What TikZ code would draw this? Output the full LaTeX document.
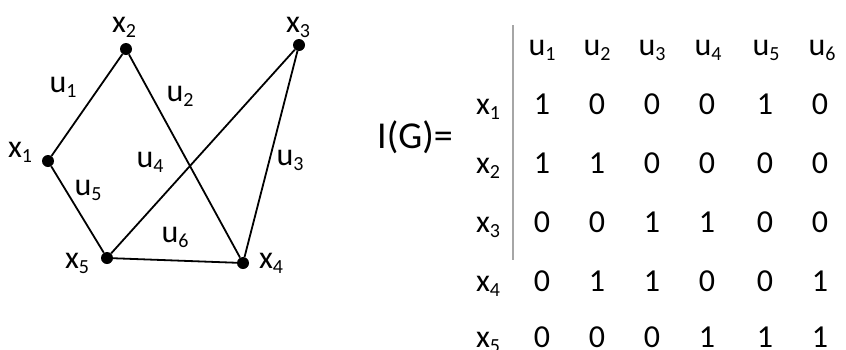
\documentclass[tikz,border=0pt]{standalone}
\usepackage{fontspec}
\setmainfont{Carlito}
\usetikzlibrary{positioning}
\newcommand{\lo}[1]{\raisebox{-.16em}{\fontsize{20}{20}\selectfont#1}}
\tikzset{
  vtx/.style={circle,fill=black,inner sep=0pt,minimum size=12pt},
  lbl/.style={anchor=base,inner sep=0pt,font=\fontsize{32}{32}\selectfont},
  edge/.style={line width=1.8pt}
}

\begin{document}
\begin{tikzpicture}[x=1pt,y=-1pt]
        \useasboundingbox (0,0) rectangle (846,349);
        \foreach \n/\x/\y in {1/48/161,2/126/49,3/299/45,4/243/263,5/107/258} {
          \node[vtx] (x\n) at (\x,\y) {};
        }
        \foreach \a/\b in {1/2,2/4,3/4,3/5,1/5,5/4} {
          \draw[edge] (x\a) -- (x\b);
        }
        \foreach \n/\x/\y in {1/20/157,2/124/32,3/298/32,4/271/268,5/77/268} {
          \node[lbl] (lx\n) at (\x,\y) {x\lo{\n}};
        }
        \foreach \n/\x/\y in {1/63/92,2/180/101,3/290/165,4/150/167,5/88/195,6/175/242} {
          \node[lbl] (lu\n) at (\x,\y) {u\lo{\n}};
        }
        \node[lbl,font=\fontsize{38}{38}\selectfont] (IG) at (415,148) {I(G)=};
        \coordinate (bartop) at (513,25);
        \coordinate (barbot) at (513,260);
        \draw[gray!70,line width=1.8pt] (bartop) -- (barbot);
        \foreach \c/\x in {1/542,2/597,3/652,4/708,5/766,6/822} {
          \node[lbl] (hu\c) at (\x,55) {u\lo{\c}};
        }
        \foreach \r/\y/\vals in {1/114/{1,0,0,0,1,0},2/173/{1,1,0,0,0,0},3/232/{0,0,1,1,0,0},4/291/{0,1,1,0,0,1},5/347/{0,0,0,1,1,1}} {
          \node[lbl] (rx\r) at (488,\y) {x\lo{\r}};
          \foreach \v [count=\c] in \vals {
            \pgfmathsetmacro{\xc}{487+55*\c+(\c>4)*3}
            \node[lbl] (m-\r-\c) at (\xc,\y) {\v};
          }
        }
      \end{tikzpicture}
\end{document}
